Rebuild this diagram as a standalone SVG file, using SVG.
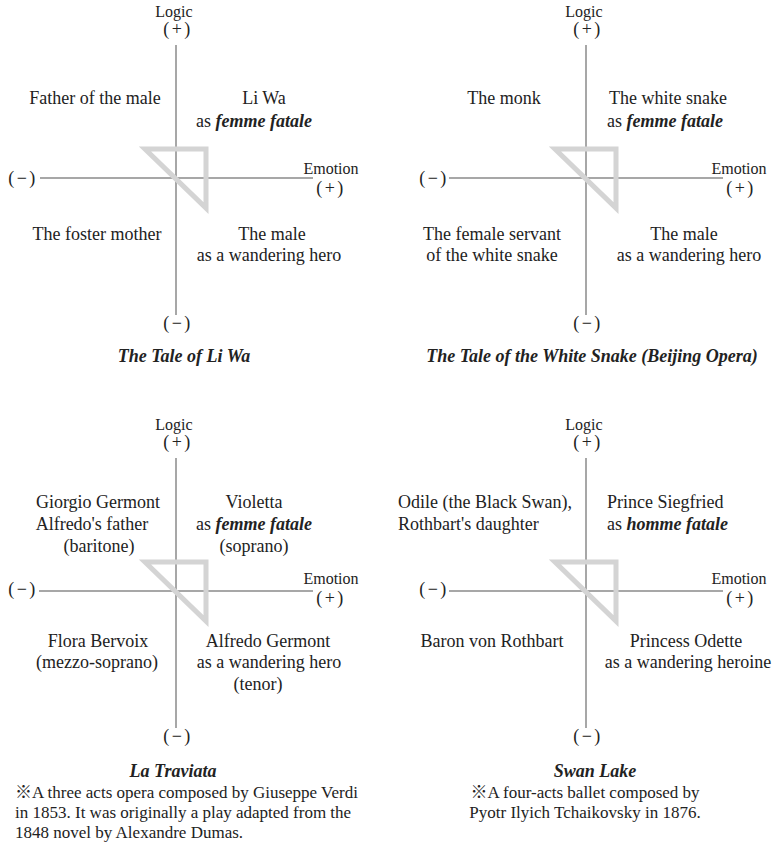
<svg xmlns="http://www.w3.org/2000/svg" width="782" height="844" viewBox="0 0 782 844">
<style>
text{font-family:"Liberation Serif","Times New Roman","Noto Sans CJK JP",serif;fill:#222;}
.l{font-size:18px;text-anchor:middle;}
.ll{font-size:18px;text-anchor:start;}
.ax{font-size:16px;text-anchor:middle;}
.sg{font-size:18px;text-anchor:middle;letter-spacing:2.5px;}
.t{font-size:18px;font-weight:bold;font-style:italic;text-anchor:middle;}
.n{font-size:17px;}
.bi{font-weight:bold;font-style:italic;}
.axis{stroke:#8a8a8a;stroke-width:1.5;fill:none;}
.tri{stroke:#d4d4d4;stroke-width:5;fill:none;stroke-linejoin:miter;}
</style>
<rect width="782" height="844" fill="#fff"/>
<g id="connectors">
  <g id="axes1"><line class="axis" x1="176" y1="45" x2="176" y2="315"/><line class="axis" x1="40" y1="178" x2="313" y2="178"/></g>
  <g id="axes2"><line class="axis" x1="586" y1="45" x2="586" y2="315"/><line class="axis" x1="449" y1="178" x2="723" y2="178"/></g>
  <g id="axes3"><line class="axis" x1="176" y1="458" x2="176" y2="728"/><line class="axis" x1="39" y1="591" x2="313" y2="591"/></g>
  <g id="axes4"><line class="axis" x1="586" y1="458" x2="586" y2="728"/><line class="axis" x1="449" y1="591" x2="723" y2="591"/></g>
  <polygon class="tri" points="145,149 206,149 206,208"/>
  <polygon class="tri" points="555,149 616,149 616,208"/>
  <polygon class="tri" points="145,562 206,562 206,621"/>
  <polygon class="tri" points="555,562 616,562 616,621"/>
</g>
<g id="panel1">
  <g id="p1-axislabels">
    <text class="ax" x="174" y="17">Logic</text>
    <text class="sg" x="178" y="35">(+)</text>
    <text class="ax" x="331" y="174">Emotion</text>
    <text class="sg" x="331" y="194">(+)</text>
    <text class="sg" x="23" y="184">(−)</text>
    <text class="sg" x="178" y="329">(−)</text>
  </g>
  <g id="p1-q2"><text class="l" x="95" y="104">Father of the male</text></g>
  <g id="p1-q1"><text class="l" x="264" y="104">Li Wa</text><text class="l" x="254" y="127">as <tspan class="bi">femme fatale</tspan></text></g>
  <g id="p1-q3"><text class="l" x="97" y="240">The foster mother</text></g>
  <g id="p1-q4"><text class="l" x="272" y="240">The male</text><text class="l" x="269" y="261">as a wandering hero</text></g>
  <g id="p1-title"><text class="t" x="184" y="362">The Tale of Li Wa</text></g>
</g>
<g id="panel2">
  <g id="p2-axislabels">
    <text class="ax" x="584" y="17">Logic</text>
    <text class="sg" x="588" y="35">(+)</text>
    <text class="ax" x="739" y="174">Emotion</text>
    <text class="sg" x="741" y="194">(+)</text>
    <text class="sg" x="434" y="184">(−)</text>
    <text class="sg" x="588" y="329">(−)</text>
  </g>
  <g id="p2-q2"><text class="l" x="504" y="104">The monk</text></g>
  <g id="p2-q1"><text class="l" x="668" y="104">The white snake</text><text class="l" x="665" y="127">as <tspan class="bi">femme fatale</tspan></text></g>
  <g id="p2-q3"><text class="l" x="492" y="240">The female servant</text><text class="l" x="492" y="261">of the white snake</text></g>
  <g id="p2-q4"><text class="l" x="684" y="240">The male</text><text class="l" x="689" y="261">as a wandering hero</text></g>
  <g id="p2-title"><text class="t" x="592" y="362">The Tale of the White Snake (Beijing Opera)</text></g>
</g>
<g id="panel3">
  <g id="p3-axislabels">
    <text class="ax" x="174" y="430">Logic</text>
    <text class="sg" x="178" y="448">(+)</text>
    <text class="ax" x="331" y="584">Emotion</text>
    <text class="sg" x="331" y="604">(+)</text>
    <text class="sg" x="23" y="595">(−)</text>
    <text class="sg" x="178" y="742">(−)</text>
  </g>
  <g id="p3-q2"><text class="l" x="98" y="508">Giorgio Germont</text><text class="l" x="92" y="530">Alfredo's father</text><text class="l" x="99" y="552">(baritone)</text></g>
  <g id="p3-q1"><text class="l" x="254" y="508">Violetta</text><text class="l" x="254" y="530">as <tspan class="bi">femme fatale</tspan></text><text class="l" x="254" y="552">(soprano)</text></g>
  <g id="p3-q3"><text class="l" x="98" y="647">Flora Bervoix</text><text class="l" x="97" y="668">(mezzo-soprano)</text></g>
  <g id="p3-q4"><text class="l" x="268" y="647">Alfredo Germont</text><text class="l" x="269" y="668">as a wandering hero</text><text class="l" x="258" y="690">(tenor)</text></g>
  <g id="p3-title"><text class="t" x="173" y="777">La Traviata</text></g>
  <g id="p3-note">
    <text class="n" x="15" y="798">※A three acts opera composed by Giuseppe Verdi</text>
    <text class="n" x="15" y="818">in 1853. It was originally a play adapted from the</text>
    <text class="n" x="15" y="838">1848 novel by Alexandre Dumas.</text>
  </g>
</g>
<g id="panel4">
  <g id="p4-axislabels">
    <text class="ax" x="584" y="430">Logic</text>
    <text class="sg" x="588" y="448">(+)</text>
    <text class="ax" x="739" y="584">Emotion</text>
    <text class="sg" x="741" y="604">(+)</text>
    <text class="sg" x="434" y="595">(−)</text>
    <text class="sg" x="588" y="742">(−)</text>
  </g>
  <g id="p4-q2"><text class="ll" x="398" y="508">Odile (the Black Swan),</text><text class="ll" x="398" y="530">Rothbart's daughter</text></g>
  <g id="p4-q1"><text class="ll" x="607" y="508">Prince Siegfried</text><text class="ll" x="607" y="530">as <tspan class="bi">homme fatale</tspan></text></g>
  <g id="p4-q3"><text class="l" x="492" y="647">Baron von Rothbart</text></g>
  <g id="p4-q4"><text class="l" x="686" y="647">Princess Odette</text><text class="l" x="688" y="668">as a wandering heroine</text></g>
  <g id="p4-title"><text class="t" x="595" y="777">Swan Lake</text></g>
  <g id="p4-note">
    <text class="n" x="585" y="798" text-anchor="middle">※A four-acts ballet composed by</text>
    <text class="n" x="585" y="818" text-anchor="middle">Pyotr Ilyich Tchaikovsky in 1876.</text>
  </g>
</g>
</svg>
